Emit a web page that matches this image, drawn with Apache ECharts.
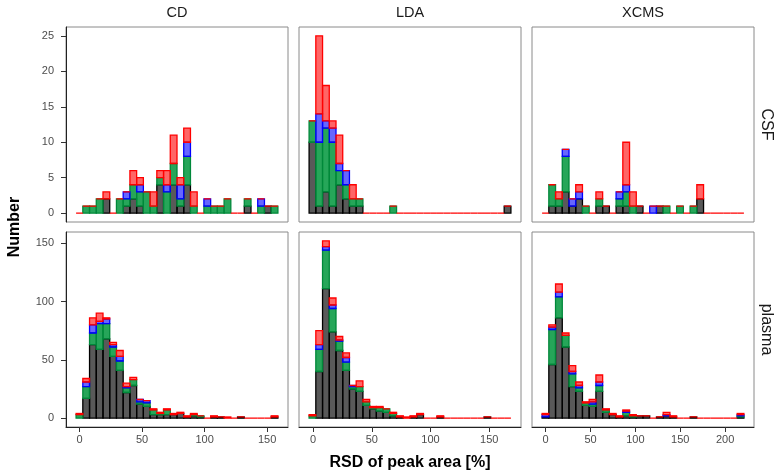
<!DOCTYPE html>
<html><head><meta charset="utf-8">
<script src="https://cdn.jsdelivr.net/npm/echarts@6/dist/echarts.min.js"></script>
<style>html,body{margin:0;padding:0;background:#fff}#c{width:780px;height:476px}</style>
</head><body><div id="c"></div>
<script>
// ---- data ----
const methods = ['CD', 'LDA', 'XCMS'];
const samples = ['CSF', 'plasma'];
const binStart = [-2.75, -3.4, -4.0];
const binWidth = [5.38, 5.73, 7.5];
const xTicks = [[0, 50, 100, 150], [0, 50, 100, 150], [0, 50, 100, 150, 200]];
const yTicks = [[0, 5, 10, 15, 20, 25], [0, 50, 100, 150]];
const yMax = [25, 152];

// stacked counts per bin (30 bins), bottom to top: black, green, blue, red
const cd_csf_black = [0,0,0,0,2,0,0,1,2,1,0,0,4,0,4,1,4,0,0,0,0,0,0,0,0,1,0,0,1,0];
const cd_csf_green = [0,1,1,2,0,0,2,1,2,2,3,1,1,3,3,1,4,1,0,1,1,1,2,0,0,1,0,1,0,1];
const cd_csf_blue  = [0,0,0,0,0,0,0,1,0,1,0,0,0,1,0,2,2,0,0,1,0,0,0,0,0,0,0,1,0,0];
const cd_csf_red   = [0,0,0,0,1,0,0,0,2,1,0,2,1,2,4,1,2,2,0,0,0,0,0,0,0,0,0,0,0,0];

const lda_csf_black = [10,1,3,1,4,2,1,1,0,0,0,0,0,0,0,0,0,0,0,0,0,0,0,0,0,0,0,0,0,1];
const lda_csf_green = [3,9,9,9,2,2,1,1,0,0,0,0,1,0,0,0,0,0,0,0,0,0,0,0,0,0,0,0,0,0];
const lda_csf_blue  = [0,4,1,2,1,2,0,0,0,0,0,0,0,0,0,0,0,0,0,0,0,0,0,0,0,0,0,0,0,0];
const lda_csf_red   = [0,11,5,1,4,0,2,0,0,0,0,0,0,0,0,0,0,0,0,0,0,0,0,0,0,0,0,0,0,0];

const xcms_csf_black = [0,1,1,3,1,2,0,0,1,1,0,1,1,0,1,0,0,1,0,0,0,0,0,2,0,0,0,0,0,0];
const xcms_csf_green = [0,3,1,5,0,0,1,0,1,0,0,1,2,1,0,0,0,0,1,0,1,0,1,0,0,0,0,0,0,0];
const xcms_csf_blue  = [0,0,0,1,1,1,0,0,0,0,0,1,1,0,0,0,1,0,0,0,0,0,0,0,0,0,0,0,0,0];
const xcms_csf_red   = [0,0,1,0,0,1,0,0,1,0,0,0,6,2,0,0,0,0,0,0,0,0,0,2,0,0,0,0,0,0];

const cd_plasma_black = [0,17,63,59,68,53,41,22,28,12,10,3,3,3,3,4,1,2,1,0,1,1,0,0,1,0,0,0,0,1];
const cd_plasma_green = [3,10,10,22,13,8,8,4,5,2,3,4,1,4,0,0,0,1,1,0,0,0,0,0,0,0,0,0,0,0];
const cd_plasma_blue  = [0,4,7,2,4,2,4,1,0,2,2,0,0,0,0,0,0,0,0,0,0,0,0,0,0,0,0,0,0,0];
const cd_plasma_red   = [1,3,6,7,1,2,5,3,2,0,0,1,1,1,1,1,1,1,0,0,1,0,1,0,0,0,0,0,0,1];

const lda_plasma_black = [0,40,111,74,58,41,25,23,11,8,6,5,2,1,0,1,3,0,0,1,0,0,0,0,0,0,1,0,0,0];
const lda_plasma_green = [2,19,33,20,8,7,2,4,3,1,3,3,2,0,0,0,0,0,0,0,0,0,0,0,0,0,0,0,0,0];
const lda_plasma_blue  = [0,4,3,3,1,4,1,0,0,0,0,0,0,0,0,0,0,0,0,0,0,0,0,0,0,0,0,0,0,0];
const lda_plasma_red   = [1,12,5,6,3,4,0,5,2,1,1,0,1,1,1,1,1,0,0,1,0,0,0,0,0,0,0,0,0,0];

const xcms_plasma_black = [1,46,86,61,27,23,11,10,23,5,3,1,2,1,2,2,0,1,2,1,0,0,1,0,0,0,0,0,0,1];
const xcms_plasma_green = [0,30,18,10,11,3,2,2,5,2,0,0,3,1,0,0,0,0,0,0,0,0,0,0,0,0,0,0,0,1];
const xcms_plasma_blue  = [2,2,4,0,2,2,0,2,3,0,0,0,1,0,0,0,0,0,1,0,0,0,0,0,0,0,0,0,0,1];
const xcms_plasma_red   = [1,2,7,2,5,3,1,2,6,1,1,1,1,1,0,0,0,0,2,1,0,0,0,0,0,0,0,0,0,1];

const panelData = [
  [[cd_csf_black, cd_csf_green, cd_csf_blue, cd_csf_red],
   [lda_csf_black, lda_csf_green, lda_csf_blue, lda_csf_red],
   [xcms_csf_black, xcms_csf_green, xcms_csf_blue, xcms_csf_red]],
  [[cd_plasma_black, cd_plasma_green, cd_plasma_blue, cd_plasma_red],
   [lda_plasma_black, lda_plasma_green, lda_plasma_blue, lda_plasma_red],
   [xcms_plasma_black, xcms_plasma_green, xcms_plasma_blue, xcms_plasma_red]]
];

// ---- styles ----
const fills = ['rgba(0,0,0,0.65)', 'rgba(0,150,60,0.85)', 'rgba(0,0,255,0.6)', 'rgba(255,0,0,0.6)'];
const strokes = ['#000000', '#00883a', '#0000ff', '#ff0000'];
const FONT = '"Liberation Sans", Arial, Helvetica, sans-serif';
const colLeft = [66, 299, 532];
const panelW = 222;
const rowTop = [27, 232];
const panelH = 195;

const grids = [], xAxes = [], yAxes = [], series = [];
let gi = 0;
for (let r = 0; r < 2; r++) {
  for (let c = 0; c < 3; c++) {
    const w = binWidth[c], s = binStart[c];
    const xmin = s - 1.5 * w, xmax = s + 31.5 * w;
    const ymin = -0.05 * yMax[r], ymax = 1.05 * yMax[r];
    grids.push({left: colLeft[c], top: rowTop[r], width: panelW, height: panelH,
      show: true, borderColor: '#8a8a8a', borderWidth: 1, backgroundColor: 'transparent'});
    xAxes.push({type: 'value', gridIndex: gi, min: xmin, max: xmax, splitLine: {show: false},
      axisLine: {show: r === 1, onZero: false, lineStyle: {color: '#222', width: 1}},
      axisTick: {show: r === 1, length: 5, lineStyle: {color: '#333'}, customValues: xTicks[c]},
      axisLabel: {show: r === 1, customValues: xTicks[c], color: '#4d4d4d', fontSize: 11, fontFamily: FONT, margin: 7}});
    yAxes.push({type: 'value', gridIndex: gi, min: ymin, max: ymax, splitLine: {show: false},
      axisLine: {show: c === 0, onZero: false, lineStyle: {color: '#222', width: 1}},
      axisTick: {show: c === 0, length: 5, lineStyle: {color: '#333'}, customValues: yTicks[r]},
      axisLabel: {show: c === 0, customValues: yTicks[r], color: '#4d4d4d', fontSize: 11, fontFamily: FONT, margin: 12}});
    const layers = panelData[r][c];
    const base = new Array(30).fill(0);
    for (let g = 0; g < 4; g++) {
      const arr = layers[g];
      const data = [];
      arr.forEach((v, k) => {
        // zero-height segments of the lower layers are hidden under the top (red) outline
        if (v > 0 || g === 3) data.push([s + k * w, s + (k + 1) * w, base[k], base[k] + v]);
        base[k] += v;
      });
      const fill = fills[g], stroke = strokes[g];
      series.push({
        type: 'custom', xAxisIndex: gi, yAxisIndex: gi, clip: true,
        encode: {x: [0, 1], y: [2, 3]},
        data: data,
        renderItem: function (params, api) {
          const p0 = api.coord([api.value(0), api.value(3)]);
          const p1 = api.coord([api.value(1), api.value(2)]);
          return {type: 'rect', shape: {x: p0[0], y: p0[1], width: p1[0] - p0[0], height: p1[1] - p0[1]},
            style: {fill: fill, stroke: stroke, lineWidth: 1.3}};
        }
      });
    }
    gi++;
  }
}

const graphics = [];
methods.forEach((m, c) => {
  graphics.push({type: 'text', x: colLeft[c] + panelW / 2, y: 13,
    style: {text: m, font: '14.5px ' + FONT, fill: '#1a1a1a', textAlign: 'center', textVerticalAlign: 'middle'}});
});
samples.forEach((sm, r) => {
  graphics.push({type: 'text', x: 766, y: rowTop[r] + panelH / 2, rotation: -Math.PI / 2,
    style: {text: sm, font: '16px ' + FONT, fill: '#1a1a1a', textAlign: 'center', textVerticalAlign: 'middle'}});
});
graphics.push({type: 'text', x: 15, y: 227, rotation: Math.PI / 2,
  style: {text: 'Number', font: 'bold 16px ' + FONT, fill: '#000', textAlign: 'center', textVerticalAlign: 'middle'}});
graphics.push({type: 'text', x: 410, y: 463,
  style: {text: 'RSD of peak area [%]', font: 'bold 16px ' + FONT, fill: '#000', textAlign: 'center', textVerticalAlign: 'middle'}});

const chart = echarts.init(document.getElementById('c'), null, {renderer: 'canvas'});
chart.setOption({
  animation: false,
  grid: grids, xAxis: xAxes, yAxis: yAxes, series: series, graphic: graphics
});
</script>
</body></html>
